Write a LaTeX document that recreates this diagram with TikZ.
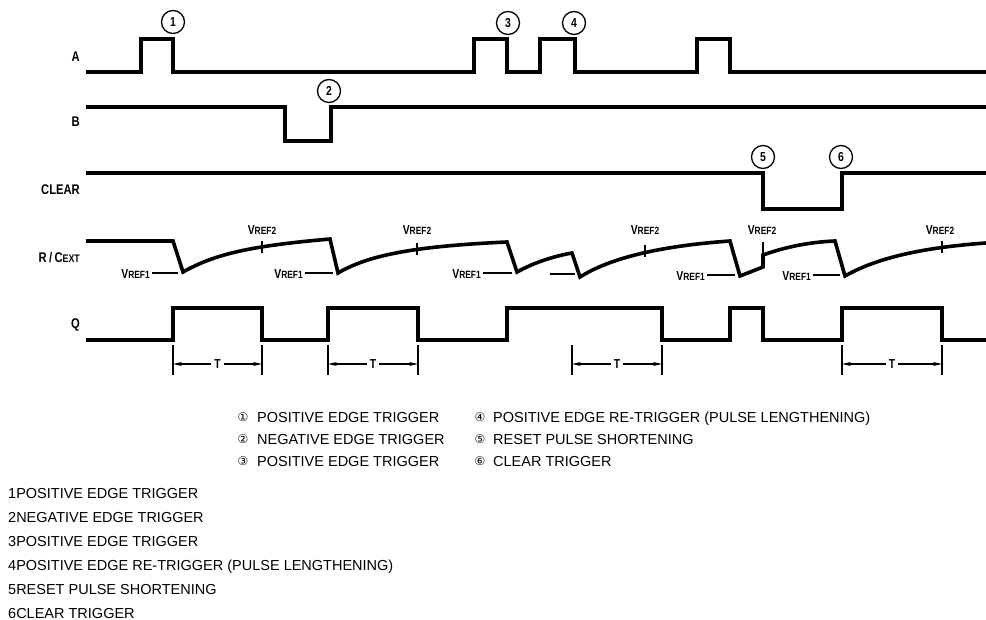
\documentclass[tikz,border=0pt]{standalone}
\usepackage{fontspec}
\setmainfont{Liberation Sans}
\newfontfamily\lab[FakeStretch=0.8]{Liberation Sans}
\newfontfamily\symf{DejaVu Sans}
\usetikzlibrary{arrows.meta}
\newcommand\VrOne{{\fontsize{13}{13}\selectfont V}{\fontsize{10.5}{10.5}\selectfont REF1}}
\newcommand\VrTwo{{\fontsize{13}{13}\selectfont V}{\fontsize{10.5}{10.5}\selectfont REF2}}
\begin{document}
\begin{tikzpicture}[x=1pt,y=-1pt,
  wave/.style={line width=3.6pt, line join=miter, line cap=butt},
  thinln/.style={line width=1.2pt},
  sig/.style={font=\lab\bfseries\fontsize{14}{14}\selectfont, anchor=east, inner sep=0pt},
  num/.style={circle, draw, line width=1.3pt, minimum size=23pt, inner sep=0pt, font=\lab\bfseries\fontsize{13}{13}\selectfont},
  vref/.style={font=\lab\bfseries, inner sep=0pt},
  dimarrow/.style={line width=1.1pt, {Stealth[length=9pt,width=4pt]}-{Stealth[length=9pt,width=4pt]}},
  tlab/.style={fill=white, inner sep=3pt, font=\lab\bfseries\fontsize{13}{13}\selectfont},
  legtext/.style={font=\fontsize{14.5}{17}\selectfont, anchor=base west, inner sep=0pt},
  legnum/.style={font=\symf\fontsize{12}{12}\selectfont, inner sep=0pt},
  ]
\useasboundingbox (0,0) rectangle (986,620);

% signal labels
\node[sig] (labA) at (80,57) {A};
\node[sig] (labB) at (80,122) {B};
\node[sig] (labC) at (80,190) {CLEAR};
\node[sig] (labR) at (80,258) {R\,/\,C{\fontsize{11}{11}\selectfont EXT}};
\node[sig] (labQ) at (80,325) {Q};

% A
\draw[wave] (86,72) -- (141,72) -- (141,39) -- (173,39) -- (173,72) -- (474,72) -- (474,39) -- (507,39) -- (507,72)
  -- (540,72) -- (540,39) -- (575,39) -- (575,72) -- (697,72) -- (697,39) -- (730,39) -- (730,72) -- (986,72);
% B
\draw[wave] (86,107) -- (285,107) -- (285,141) -- (331,141) -- (331,107) -- (986,107);
% CLEAR
\draw[wave] (86,173) -- (763,173) -- (763,209) -- (842,209) -- (842,173) -- (986,173);
% R/C EXT
\draw[wave] (86,241) -- (173,241) -- (183,272) .. controls (215,254) and (250,246) .. (330,239)
  -- (338,273) .. controls (370,254) and (420,246) .. (507,242)
  -- (517,272) .. controls (535,262) and (555,256) .. (572,253)
  -- (580,277) .. controls (610,258) and (660,246) .. (730,241)
  -- (740,276) -- (763,267) -- (763,255) .. controls (785,247) and (810,242) .. (835,241)
  -- (845,276) .. controls (880,256) and (930,247) .. (986,243);
% Q
\draw[wave] (86,340) -- (173,340) -- (173,308) -- (262,308) -- (262,340) -- (328,340) -- (328,308) -- (418,308)
  -- (418,340) -- (507,340) -- (507,308) -- (662,308) -- (662,340) -- (730,340) -- (730,308) -- (763,308)
  -- (763,340) -- (842,340) -- (842,308) -- (942,308) -- (942,340) -- (986,340);

% event circles
\node[num] (n1) at (173,22) {1};
\node[num] (n2) at (329,91) {2};
\node[num] (n3) at (508,23) {3};
\node[num] (n4) at (574,23) {4};
\node[num] (n5) at (763,157) {5};
\node[num] (n6) at (841,157) {6};

% VREF2 ticks and labels
\foreach \x/\y [count=\i] in {262/247, 417/249, 645/251, 942/247} {
  \draw[thinln] (\x,\y-6) -- (\x,\y+6);
}
\draw[thinln] (763,242) -- (763,256);
\node[vref] (v2a) at (262,230) {\VrTwo};
\node[vref] (v2b) at (417,230) {\VrTwo};
\node[vref] (v2c) at (645,230) {\VrTwo};
\node[vref] (v2d) at (762,230) {\VrTwo};
\node[vref] (v2e) at (940,230) {\VrTwo};

% VREF1 labels and lines
\foreach \s/\e/\y [count=\i] in {152/178/273, 305/333/273, 483/512/273, 707/735/275, 813/840/275} {
  \node[vref, anchor=east] (v1\i) at (\s-2,\y+1) {\VrOne};
  \coordinate (v1s\i) at (\s,\y);
  \coordinate (v1e\i) at (\e,\y);
  \draw[thinln] (v1s\i) -- (v1e\i);
}
\coordinate (v1sx) at (550,274);
\coordinate (v1ex) at (575,274);
\draw[thinln] (v1sx) -- (v1ex);

% T dimensions
\foreach \a/\b [count=\i] in {173/262, 328/418, 572/662, 842/942} {
  \coordinate (tl\i) at (\a,364);
  \coordinate (tr\i) at (\b,364);
  \draw[thinln] (\a,345) -- (\a,375);
  \draw[thinln] (\b,345) -- (\b,375);
  \draw[dimarrow] (tl\i) -- node[tlab] {T} (tr\i);
}

% legend
\node[legnum] (c1) at (243,417) {①};
\node[legtext] (l1) at (257,422) {POSITIVE EDGE TRIGGER};
\node[legnum] (c2) at (243,439) {②};
\node[legtext] (l2) at (257,444) {NEGATIVE EDGE TRIGGER};
\node[legnum] (c3) at (243,461) {③};
\node[legtext] (l3) at (257,466) {POSITIVE EDGE TRIGGER};
\node[legnum] (c4) at (480,417) {④};
\node[legtext] (l4) at (493,422) {POSITIVE EDGE RE-TRIGGER (PULSE LENGTHENING)};
\node[legnum] (c5) at (480,439) {⑤};
\node[legtext] (l5) at (493,444) {RESET PULSE SHORTENING};
\node[legnum] (c6) at (480,461) {⑥};
\node[legtext] (l6) at (493,466) {CLEAR TRIGGER};

% plain list
\node[legtext] (p1) at (8,498) {1POSITIVE EDGE TRIGGER};
\node[legtext] (p2) at (8,522) {2NEGATIVE EDGE TRIGGER};
\node[legtext] (p3) at (8,546) {3POSITIVE EDGE TRIGGER};
\node[legtext] (p4) at (8,570) {4POSITIVE EDGE RE-TRIGGER (PULSE LENGTHENING)};
\node[legtext] (p5) at (8,594) {5RESET PULSE SHORTENING};
\node[legtext] (p6) at (8,618) {6CLEAR TRIGGER};
\end{tikzpicture}
\end{document}
